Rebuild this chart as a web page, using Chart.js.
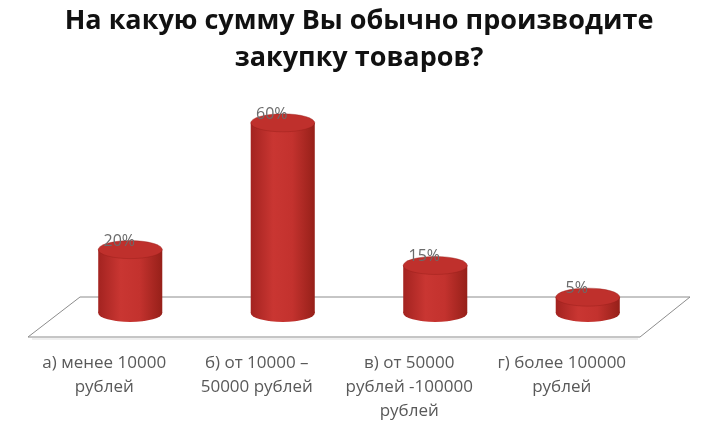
<!DOCTYPE html>
<html>
<head>
<meta charset="utf-8">
<script src="https://cdn.jsdelivr.net/npm/chart.js@4"></script>
<style>
  html, body { margin: 0; padding: 0; background: #fff; }
  #wrap { width: 704px; height: 426px; }
</style>
</head>
<body>
<div id="wrap"><canvas id="myChart"></canvas></div>
<script>
// data
const categories = [
    ['а) менее 10000', 'рублей'],
    ['б) от 10000 –', '50000 рублей'],
    ['в) от 50000', 'рублей -100000', 'рублей'],
    ['г) более 100000', 'рублей']
];
const percents = [20, 60, 15, 5];
const titleLines = ['На какую сумму Вы обычно производите', 'закупку товаров?'];

// floor + cylinders drawn on top of the library's bar elements
const cylinders = {
    id: 'cylinders',
    beforeDatasetsDraw(chart) {
        const c = chart.ctx, a = chart.chartArea;
        const base = chart.scales.y.getPixelForValue(0);
        c.save();
        c.beginPath();
        c.moveTo(a.left - 26, base + 24);
        c.lineTo(a.left + 26, base - 16);
        c.lineTo(a.right + 26, base - 16);
        c.lineTo(a.right - 24, base + 24);
        c.closePath();
        c.strokeStyle = '#8c8c8c';
        c.lineWidth = 1;
        c.stroke();
        // soft shadow under the front edge
        c.beginPath();
        c.moveTo(a.left - 22, base + 26);
        c.lineTo(a.right - 26, base + 26);
        c.strokeStyle = 'rgba(160,160,160,0.35)';
        c.stroke();
        c.restore();
    },
    afterDatasetsDraw(chart) {
        const c = chart.ctx;
        const meta = chart.getDatasetMeta(0);
        meta.data.forEach((bar, i) => {
            const rx = bar.width / 2, ry = 9;
            const x = bar.x, top = bar.y, base = bar.base;
            const g = c.createLinearGradient(x - rx, 0, x + rx, 0);
            g.addColorStop(0, '#a32320');
            g.addColorStop(0.35, '#c93632');
            g.addColorStop(0.65, '#c3322e');
            g.addColorStop(1, '#962019');
            c.save();
            c.fillStyle = g;
            c.beginPath();
            c.ellipse(x, base, rx, ry, 0, 0, Math.PI * 2);
            c.fill();
            c.fillRect(x - rx, top, rx * 2, base - top);
            c.beginPath();
            c.ellipse(x, top, rx, ry, 0, 0, Math.PI * 2);
            c.fillStyle = '#bf302c';
            c.fill();
            c.strokeStyle = 'rgba(150,30,26,0.4)';
            c.lineWidth = 1;
            c.stroke();
            // value label
            c.fillStyle = '#6b6b6b';
            c.font = '16px "Open Sans"';
            c.textAlign = 'center';
            c.textBaseline = 'alphabetic';
            c.fillText(percents[i] + '%', x - 11, top - ry + 5);
            c.restore();
        });
    }
};

const ctx = document.getElementById('myChart').getContext('2d');
const myChart = new Chart(ctx, {
    type: 'bar',
    data: {
        labels: categories,
        datasets: [{
            data: percents,
            backgroundColor: 'rgba(0,0,0,0)',
            borderWidth: 0,
            barPercentage: 0.84,
            categoryPercentage: 0.5
        }]
    },
    options: {
        responsive: true,
        maintainAspectRatio: false,
        animation: false,
        layout: { padding: { left: 54, right: 40, top: 3, bottom: 4 } },
        plugins: {
            legend: { display: false },
            tooltip: { enabled: false },
            title: {
                display: true,
                text: titleLines,
                color: '#111',
                font: { family: '"Open Sans"', size: 27, weight: 'bold', lineHeight: 1.37 },
                padding: { top: 0, bottom: 30 }
            }
        },
        scales: {
            x: {
                grid: { display: false, drawTicks: false },
                border: { display: false },
                afterFit(scale) { scale.height = 109; },
                ticks: {
                    color: '#595959',
                    padding: 38,
                    labelOffset: -26,
                    maxRotation: 0,
                    autoSkip: false,
                    font: { family: '"Open Sans"', size: 17, lineHeight: 1.42 }
                }
            },
            y: {
                display: false,
                min: 0,
                max: 65
            }
        }
    },
    plugins: [cylinders]
});
</script>
</body>
</html>
